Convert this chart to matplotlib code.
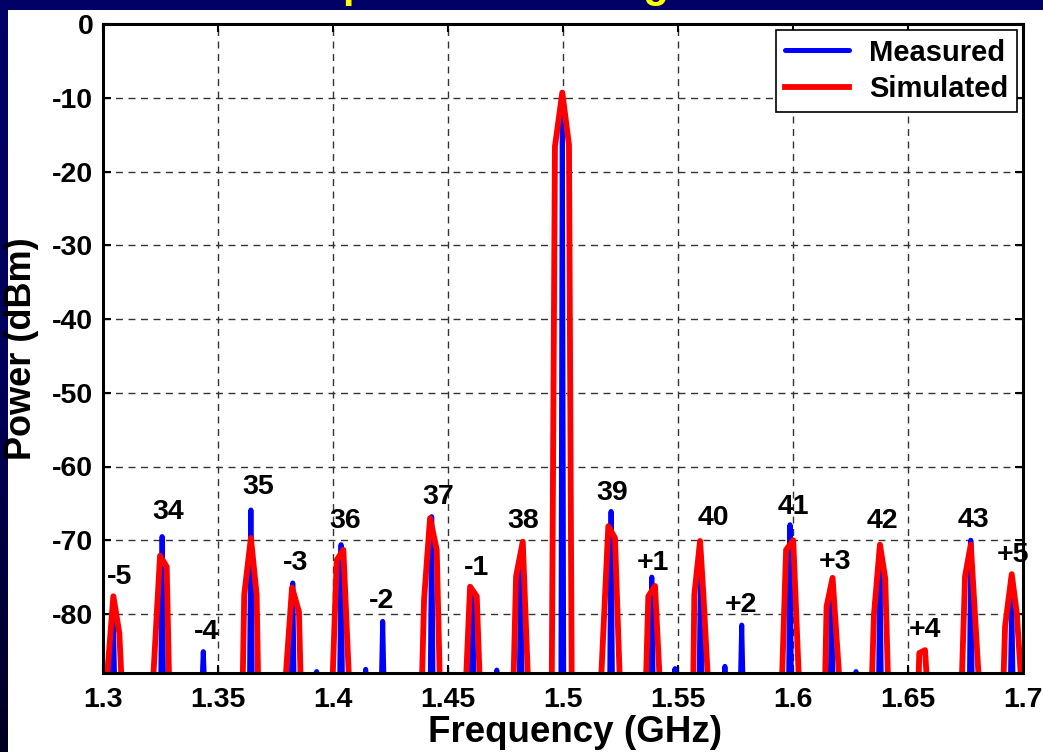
import numpy as np
import matplotlib
matplotlib.use("Agg")
import matplotlib.pyplot as plt
from matplotlib.patches import Rectangle
from matplotlib.colors import LinearSegmentedColormap

# ---- data -------------------------------------------------------------
# measured spur peaks: frequency (GHz) and power (dBm)
meas_freq = [1.3045, 1.3257, 1.3436, 1.3643, 1.3825, 1.3929, 1.4035, 1.4142,
             1.4216, 1.4429, 1.4607, 1.4712, 1.4816, 1.4997, 1.5209, 1.5386,
             1.5487, 1.5598, 1.5704, 1.5777, 1.5987, 1.6168, 1.6274, 1.6378,
             1.6773, 1.6951]
meas_power = [-80.8, -69.5, -85.1, -65.9, -75.8, -87.8, -70.6, -87.5,
              -81.0, -66.8, -77.6, -87.6, -73.1, -12.6, -66.1, -75.0,
              -87.4, -73.1, -87.1, -81.5, -67.9, -77.6, -87.8, -73.6,
              -70.0, -78.1]

# simulated spectrum trace (GHz, dBm); -90 dBm lies under the plot floor
sim_freq = [1.3014, 1.3045, 1.3071, 1.3082,
            1.3216, 1.3248, 1.3277, 1.3288,
            1.3607, 1.3614, 1.3643, 1.3668, 1.3675,
            1.3791, 1.3822, 1.3852, 1.3860,
            1.3997, 1.4016, 1.4045, 1.4071,
            1.4386, 1.4396, 1.4422, 1.4451, 1.4465,
            1.4577, 1.4596, 1.4625, 1.4639,
            1.4784, 1.4796, 1.4825, 1.4849,
            1.4951, 1.4965, 1.4997, 1.5026, 1.5038,
            1.5164, 1.5197, 1.5226, 1.5248,
            1.5360, 1.5371, 1.5400, 1.5422,
            1.5566, 1.5571, 1.5596, 1.5610, 1.5632,
            1.5951, 1.5970, 1.6001, 1.6027,
            1.6139, 1.6146, 1.6172, 1.6204,
            1.6342, 1.6352, 1.6378, 1.6401, 1.6414,
            1.6545, 1.6549, 1.6574, 1.6584,
            1.6733, 1.6748, 1.6773, 1.6810,
            1.6914, 1.6922, 1.6951, 1.6973, 1.6994]
sim_power = [-90, -77.6, -82.6, -90,
             -90, -72.1, -73.6, -90,
             -90, -77.4, -69.7, -77.4, -90,
             -90, -76.4, -79.7, -90,
             -90, -72.7, -71.3, -90,
             -90, -78.0, -67.0, -71.3, -90,
             -90, -76.3, -77.6, -90,
             -90, -74.9, -70.2, -90,
             -90, -16.6, -9.3, -16.4, -90,
             -90, -68.1, -69.7, -90,
             -90, -77.6, -76.2, -90,
             -90, -77.4, -70.1, -77.2, -90,
             -90, -71.3, -70.0, -90,
             -90, -79.0, -75.1, -90,
             -90, -80.1, -70.6, -75.2, -90,
             -90, -85.3, -84.9, -90,
             -90, -74.9, -70.6, -90,
             -90, -81.7, -74.6, -79.9, -90]

# spur annotations
spur_labels = ["-5", "34", "-4", "35", "-3", "36", "-2", "37", "-1", "38",
               "39", "+1", "40", "+2", "41", "+3", "42", "+4", "43", "+5"]
label_freq = [1.3074, 1.3283, 1.3452, 1.3674, 1.3839, 1.4052, 1.4209, 1.4457,
              1.4622, 1.4826, 1.5213, 1.5391, 1.5655, 1.5774, 1.6000, 1.6183,
              1.6387, 1.6574, 1.6783, 1.6958]
label_power = [-75.0, -66.2, -82.4, -62.8, -73.1, -67.4, -78.2, -64.1,
               -73.8, -67.4, -63.6, -73.1, -67.0, -78.8, -65.5, -72.9,
               -67.4, -82.2, -67.3, -72.0]

x_ticks = [1.3, 1.35, 1.4, 1.45, 1.5, 1.55, 1.6, 1.65, 1.7]
x_tick_labels = ["1.3", "1.35", "1.4", "1.45", "1.5", "1.55", "1.6", "1.65", "1.7"]
y_ticks = [0, -10, -20, -30, -40, -50, -60, -70, -80]
y_tick_labels = ["0", "-10", "-20", "-30", "-40", "-50", "-60", "-70", "-80"]

# ---- style ------------------------------------------------------------
plt.rcParams["font.family"] = ["Liberation Sans", "DejaVu Sans"]
plt.rcParams["font.weight"] = "bold"
plt.rcParams["axes.unicode_minus"] = False

W, H = 1043, 752
fig = plt.figure(figsize=(W / 100, H / 100), dpi=100)
fig.patch.set_facecolor("#000066")

# slide background: navy fading darker towards the bottom
bg = fig.add_axes([0, 0, 1, 1], zorder=-10)
grad = np.linspace(0, 1, 256).reshape(-1, 1)
cmap = LinearSegmentedColormap.from_list("slide", ["#000066", "#00005c", "#000022"])
bg.imshow(grad, aspect="auto", cmap=cmap, extent=[0, 1, 0, 1], origin="upper")
bg.set_axis_off()

# slide title (mostly above the visible area)
fig.text(109 / W, 1.0 + 3 / H, "Measured Spur Tones Using Harmonic Mixers",
         color="#ffff00", fontsize=30, fontweight="bold",
         ha="left", va="baseline", zorder=-6)

# white plotting panel
fig.patches.append(Rectangle((8 / W, 0), 1, (H - 10) / H, transform=fig.transFigure,
                             facecolor="white", edgecolor="none", zorder=-5))

ax = fig.add_axes([103 / W, (H - 673) / H, 920 / W, 649 / H])
ax.set_facecolor("white")

# measured trace: a narrow spike at each measured peak
hw = 0.0006
m_x, m_y = [], []
for f, p in zip(meas_freq, meas_power):
    m_x += [f - hw, f, f + hw]
    m_y += [-90, p, -90]

ax.plot(m_x, m_y, color="#0000ff", lw=3.6, solid_joinstyle="round",
        solid_capstyle="round", label="Measured", zorder=3)
ax.plot(sim_freq, sim_power, color="#ff0000", lw=4.2, solid_joinstyle="round",
        label="Simulated", zorder=4)

for txt, f, p in zip(spur_labels, label_freq, label_power):
    ax.text(f, p, txt, ha="center", va="center", fontsize=20.5,
            fontweight="bold", color="black", zorder=5, clip_on=False)

ax.set_xlim(1.3, 1.7)
ax.set_ylim(-88, 0)
ax.set_xticks(x_ticks)
ax.set_xticklabels(x_tick_labels)
ax.set_yticks(y_ticks)
ax.set_yticklabels(y_tick_labels)
ax.tick_params(direction="in", top=True, right=True, length=6, width=1.5,
               labelsize=20.5, pad=7)
ax.tick_params(axis="x", pad=10)
for lab in ax.get_xticklabels() + ax.get_yticklabels():
    lab.set_fontweight("bold")

ax.grid(True, color="#333333", lw=1.0, linestyle=(0, (5, 4)))
ax.set_axisbelow(True)
for s in ax.spines.values():
    s.set_linewidth(2.2)
    s.set_color("black")
    s.set_zorder(6)

ax.set_xlabel("Frequency (GHz)", fontsize=26.5, fontweight="bold", va="center")
ax.xaxis.set_label_coords((575 - 103) / 920, (673 - 732) / 649)
ax.set_ylabel("Power (dBm)", fontsize=26, fontweight="bold", va="center")
ax.yaxis.set_label_coords((22 - 103) / 920, 0.5)

leg = ax.legend(loc="upper right", fontsize=21, frameon=True, fancybox=False,
                framealpha=1, edgecolor="black", borderaxespad=0.2,
                handlelength=2.2, handletextpad=0.7, labelspacing=0.28,
                borderpad=0.3)
leg.get_frame().set_linewidth(1.2)
for t in leg.get_texts():
    t.set_fontweight("bold")
leg.set_zorder(7)

fig.savefig("out.png", dpi=100, facecolor=fig.get_facecolor())
